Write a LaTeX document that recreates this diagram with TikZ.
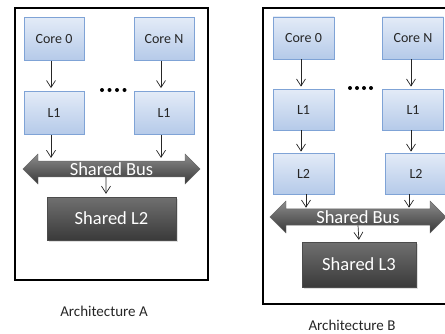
\documentclass[tikz,border=0pt]{standalone}
\usepackage{fontspec}
\setmainfont{Carlito}
\usetikzlibrary{arrows.meta,shapes.arrows,shadows}

\definecolor{boxtop}{HTML}{E3EBF7}
\definecolor{boxbot}{HTML}{B5CAE9}
\definecolor{boxline}{HTML}{7FA3D6}
\definecolor{darktop}{HTML}{707070}
\definecolor{darkbot}{HTML}{3A3A3A}

\tikzset{
  cache/.style={draw=boxline, line width=0.8pt, top color=boxtop, bottom color=boxbot,
    minimum width=60pt, minimum height=43pt, inner sep=0pt, font=\fontsize{14}{16}\selectfont, text=black!85},
  shared/.style={draw=black!70, top color=darktop, bottom color=darkbot, drop shadow={opacity=0.25},
    inner sep=0pt, text=white, font=\fontsize{18.5}{20}\selectfont},
  bus/.style={double arrow, double arrow head extend=6pt, minimum width=30pt, inner sep=0pt,
    top color=black!45, bottom color=black!78, draw=black!60, text=white, font=\fontsize{18.5}{20}\selectfont},
  arr/.style={-{Straight Barb[length=7pt,width=9pt]}, line width=0.7pt, black!85},
  archlabel/.style={font=\fontsize{15}{17}\selectfont, text=black!85}
}

\begin{document}
\begin{tikzpicture}[x=1pt,y=1pt]
\clip (0,0) rectangle (445,333);

% Architecture A
\draw[line width=2pt] (15,53) rectangle (208,325);
\node[cache] (c0a) at (54,294) {Core 0};
\node[cache] (cna) at (164,294) {Core N};
\node[cache] (l1a0) at (54,220) {L1};
\node[cache] (l1an) at (164,220) {L1};
\foreach \x in {102,109.5,117,124.5} \fill (\x,243) circle (2);
\node[bus, minimum height=177pt] (busa) at (111.5,164) {Shared Bus};
\node[shared, minimum width=129pt, minimum height=43pt] (l2a) at (111.5,114.5) {Shared L2};
\node[archlabel] (archa) at (104,22) {Architecture A};

\draw[arr, shorten >=3pt] ([xshift=-3pt]c0a.south) -- ([xshift=-3pt]l1a0.north);
\draw[arr, shorten >=3pt] ([xshift=-3pt]cna.south) -- ([xshift=-3pt]l1an.north);
\draw[arr, shorten >=3pt] ([xshift=-3pt]l1a0.south) -- ([xshift=-3pt]l1a0.south |- busa.north);
\draw[arr, shorten >=3pt] ([xshift=-3pt]l1an.south) -- ([xshift=-3pt]l1an.south |- busa.north);
\draw[arr, shorten >=3pt] ([xshift=-5.5pt]busa.south) -- ([xshift=-5.5pt]l2a.north);

% Architecture B
\draw[line width=2pt] (263,29) rectangle (470,325);
\node[cache, minimum width=61pt, minimum height=42pt] (c0b) at (303.5,295) {Core 0};
\node[cache, minimum width=61pt, minimum height=42pt] (cnb) at (413,295) {Core N};
\node[cache, minimum width=61pt, minimum height=41pt] (l1b0) at (303.5,223.5) {L1};
\node[cache, minimum width=61pt, minimum height=41pt] (l1bn) at (413,223.5) {L1};
\node[cache, minimum width=61pt, minimum height=41pt] (l2b0) at (303.5,159.5) {L2};
\node[cache, minimum width=61pt, minimum height=41pt] (l2bn) at (416,159.5) {L2};
\foreach \x in {350,357,364,371} \fill (\x,245) circle (2);
\node[bus, minimum height=176pt, minimum width=32pt, double arrow head extend=6.5pt] (busb) at (358,116) {Shared Bus};
\node[shared, minimum width=114pt, minimum height=45pt] (l3b) at (359,68.5) {Shared L3};
\node[archlabel, anchor=base] (archb) at (352,3) {Architecture B};

\draw[arr, shorten >=2pt] ([xshift=-2.5pt]c0b.south) -- ([xshift=-2.5pt]l1b0.north);
\draw[arr, shorten >=2pt] ([xshift=-2pt]cnb.south) -- ([xshift=-2pt]l1bn.north);
\draw[arr, shorten >=1pt] ([xshift=-2.5pt]l1b0.south) -- ([xshift=-2.5pt]l2b0.north);
\draw[arr, shorten >=1pt] ([xshift=-2pt]l1bn.south) -- ([xshift=-2pt]l1bn.south |- l2bn.north);
\draw[arr, shorten >=1pt] ([xshift=2.5pt]l2b0.south) -- ([xshift=2.5pt]l2b0.south |- busb.north);
\draw[arr, shorten >=1pt] ([xshift=-7pt]l2bn.south) -- ([xshift=-7pt]l2bn.south |- busb.north);
\draw[arr, shorten >=2pt] (busb.south) -- (l3b.north);
\end{tikzpicture}
\end{document}
